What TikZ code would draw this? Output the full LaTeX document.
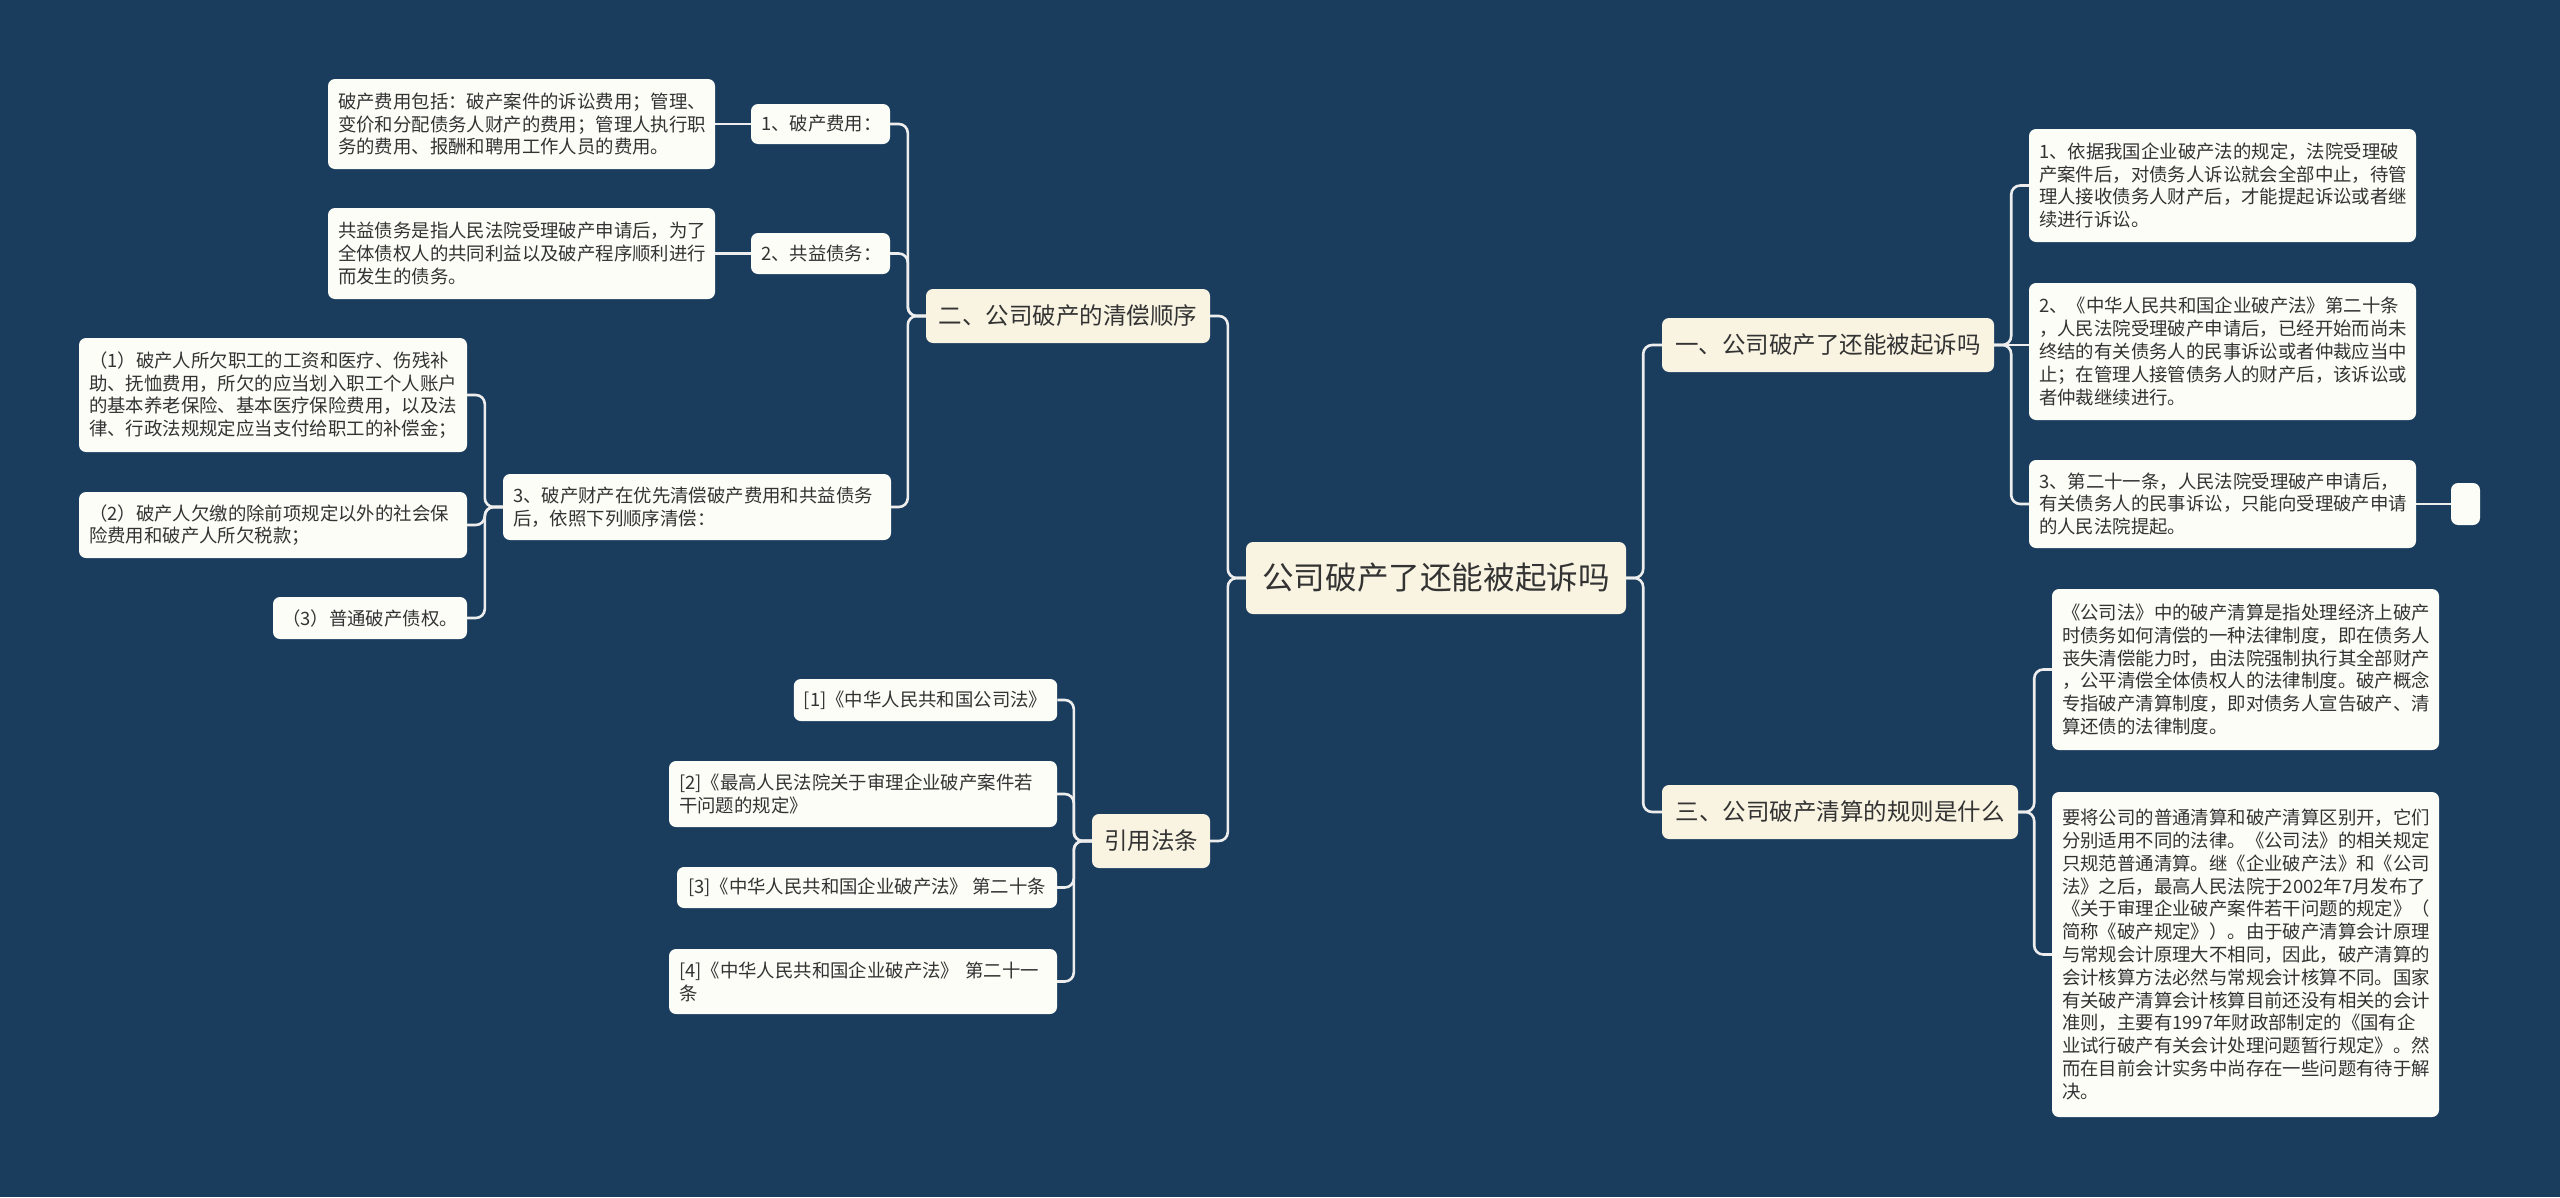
\documentclass[tikz,border=0pt]{standalone}
\usepackage{fontspec}
\setmainfont{Noto Sans CJK SC}
\definecolor{bgc}{HTML}{1A3D5E}
\definecolor{maincol}{HTML}{F9F4E2}
\definecolor{leafcol}{HTML}{FDFDF7}
\definecolor{txtc}{HTML}{333333}
\definecolor{linec}{HTML}{EDEDED}
\tikzset{
  boxbase/.style={rounded corners=7pt, text=txtc, inner xsep=10pt, inner ysep=4pt},
  rootbox/.style={boxbase, fill=maincol, align=center, font=\fontsize{31.6pt}{36pt}\selectfont},
  topicbox/.style={boxbase, fill=maincol, align=center, font=\fontsize{23.5pt}{28pt}\selectfont},
  leafbox/.style={boxbase, fill=leafcol, align=left, font=\fontsize{18.4pt}{22.8pt}\selectfont},
  conn/.style={draw=linec, line width=2.6pt, rounded corners=9pt}
}
\begin{document}
\begin{tikzpicture}[x=1pt,y=-1pt]
\useasboundingbox (0,0) rectangle (2560,1197);
\fill[bgc] (0,0) rectangle (2560,1197);

% root and topics
\node[rootbox, minimum width=380, minimum height=72] (root) at (1436,578) {公司破产了还能被起诉吗};
\node[topicbox, minimum width=332, minimum height=54] (t1) at (1828,345) {一、公司破产了还能被起诉吗};
\node[topicbox, minimum width=356, minimum height=54] (t3) at (1840,812) {三、公司破产清算的规则是什么};
\node[topicbox, minimum width=284, minimum height=54] (t2) at (1068,316) {二、公司破产的清偿顺序};
\node[topicbox, minimum width=118, minimum height=54] (t4) at (1151,841) {引用法条};

% right branch 一
\node[leafbox, minimum width=387, minimum height=113, text width=367] (r1) at (2222.5,185.5) {1、依据我国企业破产法的规定，法院受理破\\产案件后，对债务人诉讼就会全部中止，待管\\理人接收债务人财产后，才能提起诉讼或者继\\续进行诉讼。};
\node[leafbox, minimum width=387, minimum height=137, text width=367] (r2) at (2222.5,351.5) {2、《中华人民共和国企业破产法》第二十条\\，人民法院受理破产申请后，已经开始而尚未\\终结的有关债务人的民事诉讼或者仲裁应当中\\止；在管理人接管债务人的财产后，该诉讼或\\者仲裁继续进行。};
\node[leafbox, minimum width=387, minimum height=88, text width=367] (r3) at (2222.5,504) {3、第二十一条，人民法院受理破产申请后，\\有关债务人的民事诉讼，只能向受理破产申请\\的人民法院提起。};
\node[leafbox, minimum width=29, minimum height=42, inner xsep=0pt] (r3x) at (2465.5,504) {};

% right branch 三
\node[leafbox, minimum width=387, minimum height=161, text width=367] (r4) at (2245.5,669.5) {《公司法》中的破产清算是指处理经济上破产\\时债务如何清偿的一种法律制度，即在债务人\\丧失清偿能力时，由法院强制执行其全部财产\\，公平清偿全体债权人的法律制度。破产概念\\专指破产清算制度，即对债务人宣告破产、清\\算还债的法律制度。};
\node[leafbox, minimum width=387, minimum height=325, text width=367] (r5) at (2245.5,954.5) {要将公司的普通清算和破产清算区别开，它们\\分别适用不同的法律。《公司法》的相关规定\\只规范普通清算。继《企业破产法》和《公司\\法》之后，最高人民法院于2002年7月发布了\\《关于审理企业破产案件若干问题的规定》（\\简称《破产规定》）。由于破产清算会计原理\\与常规会计原理大不相同，因此，破产清算的\\会计核算方法必然与常规会计核算不同。国家\\有关破产清算会计核算目前还没有相关的会计\\准则，主要有1997年财政部制定的《国有企\\业试行破产有关会计处理问题暂行规定》。然\\而在目前会计实务中尚存在一些问题有待于解\\决。};

% left branch 二
\node[leafbox, minimum width=139, minimum height=40, text width=119] (a1) at (820.5,124) {1、破产费用：};
\node[leafbox, minimum width=387, minimum height=90, text width=367] (l1) at (521.5,124) {破产费用包括：破产案件的诉讼费用；管理、\\变价和分配债务人财产的费用；管理人执行职\\务的费用、报酬和聘用工作人员的费用。};
\node[leafbox, minimum width=139, minimum height=41, text width=119] (a2) at (820.5,253.5) {2、共益债务：};
\node[leafbox, minimum width=387, minimum height=91, text width=367] (l2) at (521.5,253.5) {共益债务是指人民法院受理破产申请后，为了\\全体债权人的共同利益以及破产程序顺利进行\\而发生的债务。};
\node[leafbox, minimum width=388, minimum height=66, text width=368] (a3) at (697,507) {3、破产财产在优先清偿破产费用和共益债务\\后，依照下列顺序清偿：};
\node[leafbox, minimum width=388, minimum height=114, text width=368] (b1) at (273,395) {（1）破产人所欠职工的工资和医疗、伤残补\\助、抚恤费用，所欠的应当划入职工个人账户\\的基本养老保险、基本医疗保险费用，以及法\\律、行政法规规定应当支付给职工的补偿金；};
\node[leafbox, minimum width=388, minimum height=66, text width=368] (b2) at (273,525) {（2）破产人欠缴的除前项规定以外的社会保\\险费用和破产人所欠税款；};
\node[leafbox, minimum width=194, minimum height=42, align=center, inner xsep=6pt] (b3) at (370,618) {（3）普通破产债权。};

% citations
\node[leafbox, minimum width=263, minimum height=42, align=center] (c1) at (925.5,700) {[1]《中华人民共和国公司法》};
\node[leafbox, minimum width=388, minimum height=66, text width=368] (c2) at (863,794) {[2]《最高人民法院关于审理企业破产案件若\\干问题的规定》};
\node[leafbox, minimum width=380, minimum height=41, align=center] (c3) at (867,887.5) {[3]《中华人民共和国企业破产法》 第二十条};
\node[leafbox, minimum width=388, minimum height=65, text width=368] (c4) at (863,981.5) {[4]《中华人民共和国企业破产法》 第二十一\\条};

% connectors
\draw[conn] (root.east) -- ++(17,0) |- (t1.west);
\draw[conn] (root.east) -- ++(17,0) |- (t3.west);
\draw[conn] (root.west) -- ++(-18,0) |- (t2.east);
\draw[conn] (root.west) -- ++(-18,0) |- (t4.east);

\draw[conn] (t1.east) -- ++(17,0) |- (r1.west);
\draw[conn] (t1.east) -- (t1.east -| r2.west);
\draw[conn] (t1.east) -- ++(17,0) |- (r3.west);
\draw[conn] (r3.east) -- (r3x.west);

\draw[conn] (t3.east) -- ++(16,0) |- (r4.west);
\draw[conn] (t3.east) -- ++(16,0) |- (r5.west);

\draw[conn] (t2.west) -- ++(-18,0) |- (a1.east);
\draw[conn] (t2.west) -- ++(-18,0) |- (a2.east);
\draw[conn] (t2.west) -- ++(-18,0) |- (a3.east);
\draw[conn] (a1.west) -- (l1.east);
\draw[conn] (a2.west) -- (l2.east);

\draw[conn] (a3.west) -- ++(-18,0) |- (b1.east);
\draw[conn] (a3.west) -- ++(-18,0) |- (b2.east);
\draw[conn] (a3.west) -- ++(-18,0) |- (b3.east);

\draw[conn] (t4.west) -- ++(-18,0) |- (c1.east);
\draw[conn] (t4.west) -- ++(-18,0) |- (c2.east);
\draw[conn] (t4.west) -- ++(-18,0) |- (c3.east);
\draw[conn] (t4.west) -- ++(-18,0) |- (c4.east);
\end{tikzpicture}
\end{document}
